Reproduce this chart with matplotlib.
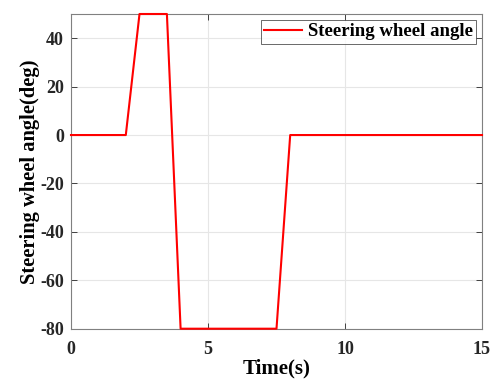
import matplotlib
matplotlib.use('Agg')
import matplotlib.pyplot as plt

# steering input profile (s, deg)
time_s = [0, 2.0, 2.5, 3.5, 4.0, 7.5, 8.0, 15]
angle_deg = [0, 0, 50, 50, -80, -80, 0, 0]

xticks = [0, 5, 10, 15]
yticks = [-80, -60, -40, -20, 0, 20, 40]

plt.rcParams['font.family'] = ['Liberation Serif', 'DejaVu Serif']
plt.rcParams['font.weight'] = 'bold'
plt.rcParams['axes.unicode_minus'] = False

fig = plt.figure(figsize=(4.91, 3.80), dpi=100)
ax = fig.add_axes([71/491, 1-328.7/380, (482-71)/491, (328.7-14)/380])

ax.plot(time_s, angle_deg, color='#ff0000', lw=1.5, label='Steering wheel angle',
        clip_on=False, zorder=3)

ax.set_xlim(0, 15)
ax.set_ylim(-80, 50)
ax.set_xticks(xticks)
ax.set_yticks(yticks)
ax.grid(True, color='#e6e6e6', lw=0.8)
ax.set_axisbelow(True)
ax.tick_params(direction='in', top=True, right=True, length=4, width=0.6,
               colors='#262626', labelsize=13)
ax.tick_params(axis='x', pad=9)
ax.tick_params(axis='y', pad=5)
for lbl in ax.get_xticklabels() + ax.get_yticklabels():
    lbl.set_fontweight('bold')
for sp in ax.spines.values():
    sp.set_color('#808080')
    sp.set_linewidth(0.8)

ax.set_xlabel('Time(s)', fontsize=15, fontweight='bold', labelpad=0.5)
ax.set_ylabel('Steering wheel angle(deg)', fontsize=14.8, fontweight='bold', labelpad=0)

leg = ax.legend(loc='upper right', prop={'weight': 'bold', 'size': 13.5},
                frameon=True, fancybox=False, borderpad=0.2, handlelength=2.0,
                handletextpad=0.3, borderaxespad=0.3)
leg.get_frame().set_edgecolor('#262626')
leg.get_frame().set_linewidth(0.6)

fig.savefig('out.png', dpi=100)
